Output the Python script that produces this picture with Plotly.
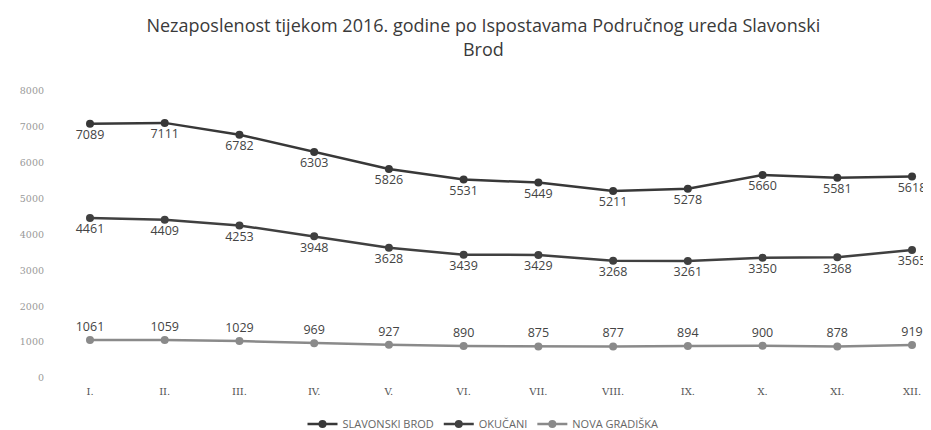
import plotly.graph_objects as go

months = ["I.", "II.", "III.", "IV.", "V.", "VI.", "VII.", "VIII.", "IX.", "X.", "XI.", "XII."]
slavonski_brod = [7089, 7111, 6782, 6303, 5826, 5531, 5449, 5211, 5278, 5660, 5581, 5618]
okucani = [4461, 4409, 4253, 3948, 3628, 3439, 3429, 3268, 3261, 3350, 3368, 3565]
nova_gradiska = [1061, 1059, 1029, 969, 927, 890, 875, 877, 894, 900, 878, 919]
y_ticks = [0, 1000, 2000, 3000, 4000, 5000, 6000, 7000, 8000]

x = list(range(len(months)))
label_font = dict(family="Open Sans, Liberation Sans, sans-serif", size=12.5, color="#444444")

fig = go.Figure()
fig.add_trace(go.Scatter(
    x=x, y=slavonski_brod, name="SLAVONSKI BROD", mode="lines+markers+text",
    line=dict(color="#383838", width=2.5), marker=dict(size=8, color="#383838"),
    text=[str(v) for v in slavonski_brod], textposition="bottom center", textfont=label_font,
    cliponaxis=False,
))
fig.add_trace(go.Scatter(
    x=x, y=okucani, name="OKUČANI", mode="lines+markers+text",
    line=dict(color="#404040", width=2.5), marker=dict(size=8, color="#404040"),
    text=[str(v) for v in okucani], textposition="bottom center", textfont=label_font,
    cliponaxis=False,
))
fig.add_trace(go.Scatter(
    x=x, y=nova_gradiska, name="NOVA GRADIŠKA", mode="lines+markers+text",
    line=dict(color="#8a8a8a", width=2.5), marker=dict(size=8, color="#8a8a8a"),
    text=[str(v) for v in nova_gradiska], textposition="top center", textfont=label_font,
    cliponaxis=False,
))

fig.update_layout(
    width=923, height=422,
    paper_bgcolor="white", plot_bgcolor="white",
    margin=dict(l=37, r=10, t=83, b=52, autoexpand=False),
    title=dict(
        text="Nezaposlenost tijekom 2016. godine po Ispostavama Područnog ureda Slavonski<br>Brod",
        x=0.515, xanchor="center", y=0.942, yanchor="top",
        font=dict(family="Open Sans, Liberation Sans, sans-serif", size=18, color="#3a3a3a"),
    ),
    xaxis=dict(
        tickmode="array", tickvals=x, ticktext=months, range=[-0.602, 11.12],
        showgrid=False, showline=False, zeroline=False, ticks="", automargin=False,
        ticklabelstandoff=6,
        tickfont=dict(family="DejaVu Serif, serif", size=10, color="#555555"),
    ),
    yaxis=dict(
        range=[0, 8000], tickvals=y_ticks, showgrid=False, showline=False, zeroline=False,
        ticks="", automargin=False,
        tickfont=dict(family="DejaVu Serif, serif", size=9.5, color="#999999"),
    ),
    legend=dict(
        orientation="h", x=0.5, xanchor="center", y=-0.11, yanchor="top",
        font=dict(family="Open Sans, Liberation Sans, sans-serif", size=11, color="#666666"),
        itemwidth=30, traceorder="normal",
    ),
    showlegend=True,
)

fig.write_html("out.html")
